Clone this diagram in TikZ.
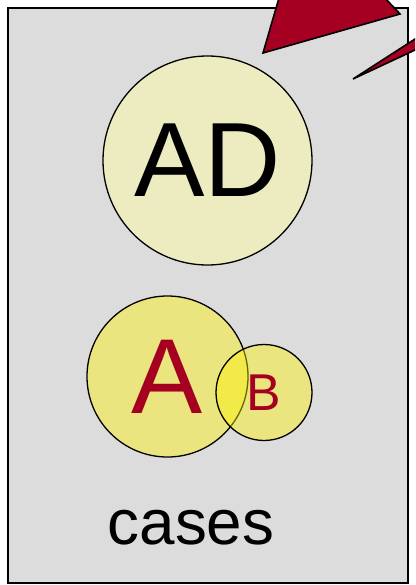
\documentclass[tikz,border=0pt]{standalone}
\usepackage{fontspec}
\setmainfont{Liberation Sans}
\usetikzlibrary{positioning}

\definecolor{panelgray}{RGB}{220,220,220}
\definecolor{paleyellow}{RGB}{236,236,192}
\definecolor{calloutred}{RGB}{165,0,33}

\begin{document}
\begin{tikzpicture}[
  x=1bp, y=-1bp,
  panel/.style={draw=black, line width=2.6bp, fill=panelgray},
  bubble/.style={circle, draw=black, line width=1.3bp, inner sep=0pt},
  setbubble/.style={bubble, fill=yellow, fill opacity=0.42, text opacity=1, text=calloutred},
  callout/.style={draw=black, line width=1.6bp, fill=calloutred, line join=miter}
]
  \useasboundingbox (0,0) rectangle (415,585);
  \fill[white] (0,0) rectangle (415,585);

  \draw[panel] (8,8) rectangle (408,583);

  \node[bubble, fill=paleyellow, minimum size=209bp,
        font=\fontsize{106}{106}\selectfont] (ad) at (207.5,160.5) {AD};

  % the two sets, see-through so the overlap shows
  \node[setbubble, minimum size=161bp,
        font=\fontsize{107}{107}\selectfont] (a) at (167.5,376.5) {A};
  \node[setbubble, minimum size=96bp,
        font=\fontsize{52}{52}\selectfont] (b) at (264,392.5) {B};

  \node[font=\fontsize{64}{64}\selectfont] (cases) at (191,528) {cases};

  % callout tails coming in from the top right
  \coordinate (tailA) at (263,53);
  \coordinate (tailB) at (400,14);
  \coordinate (tailC) at (304,-88);
  \coordinate (tip)   at (353,79);
  \coordinate (tipU)  at (460,10);
  \coordinate (tipL)  at (460,29);
  \begin{scope}
    \clip (0,0) rectangle (415,585);
    \draw[callout] (tailA) -- (tailB) -- (tailC) -- cycle;
    \draw[callout] (tip) -- (tipU) -- (tipL) -- cycle;
  \end{scope}
\end{tikzpicture}
\end{document}
